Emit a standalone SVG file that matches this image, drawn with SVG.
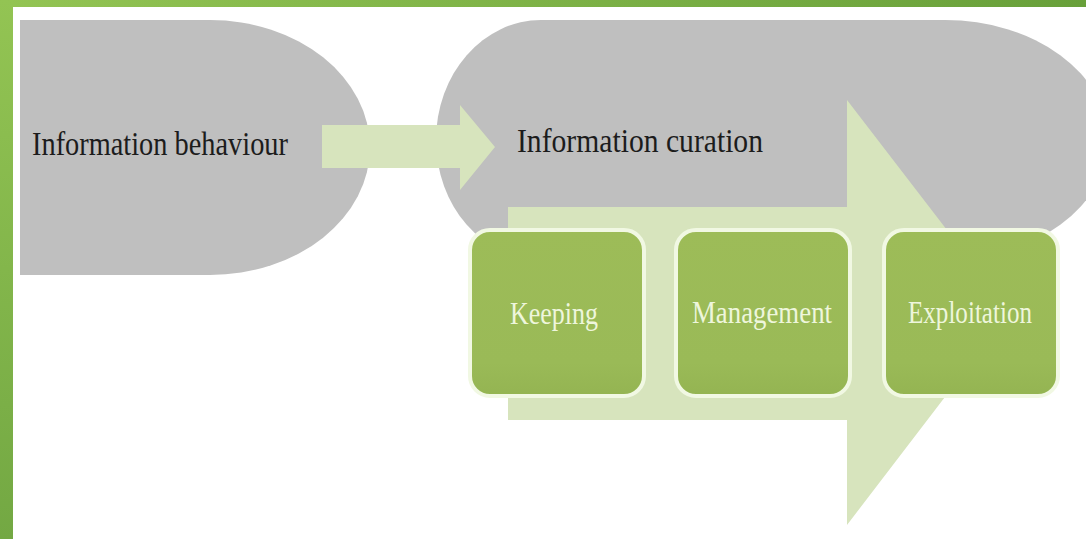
<svg xmlns="http://www.w3.org/2000/svg" width="1086" height="539" viewBox="0 0 1086 539">
  <defs>
    <linearGradient id="frameL" x1="0" y1="0" x2="0" y2="1">
      <stop offset="0" stop-color="#93c453"/>
      <stop offset="1" stop-color="#73a843"/>
    </linearGradient>
    <linearGradient id="frameT" x1="0" y1="0" x2="1" y2="0">
      <stop offset="0" stop-color="#93c453"/>
      <stop offset="1" stop-color="#68a03a"/>
    </linearGradient>
    <linearGradient id="boxFill" x1="0" y1="0" x2="0" y2="1">
      <stop offset="0" stop-color="#9dbc58"/>
      <stop offset="0.8" stop-color="#9aba57"/>
      <stop offset="1" stop-color="#94b452"/>
    </linearGradient>
    <style>
      .gray { fill: #bfbfbf; }
      .arrow { fill: #d7e4bd; }
      .box { fill: url(#boxFill); stroke: #f1f8e3; stroke-width: 4; }
      .dark { font-family: "Liberation Serif", "Times New Roman", serif; font-size: 34px; fill: #1c1c1c; }
      .light { font-family: "Liberation Serif", "Times New Roman", serif; font-size: 31px; fill: #eef6dc; text-anchor: middle; }
    </style>
  </defs>

  <rect x="0" y="0" width="1086" height="539" fill="#ffffff"/>

  <g id="frame">
    <rect x="0" y="0" width="1086" height="7" fill="url(#frameT)"/>
    <rect x="0" y="0" width="13" height="539" fill="url(#frameL)"/>
  </g>

  <g id="node-behaviour">
    <path class="gray" d="M20,20 L210,20 A160,127.5 0 0 1 210,275 L20,275 Z"/>
    <text class="dark" x="32" y="155" textLength="256" lengthAdjust="spacingAndGlyphs">Information behaviour</text>
  </g>

  <g id="node-curation">
    <path class="gray" d="M541,20 L945,20 A163,120 0 0 1 945,260 L541,260 A105,120 0 0 1 541,20 Z"/>
  </g>

  <g id="connectors">
    <path class="arrow" d="M322,125 L460,125 L460,105 L495,147 L460,190 L460,168 L322,168 Z"/>
    <path class="arrow" d="M508,207 L847,207 L847,100 L1010,312 L847,525 L847,420 L508,420 Z"/>
  </g>

  <g id="label-curation">
    <text class="dark" x="517" y="152" textLength="246" lengthAdjust="spacingAndGlyphs">Information curation</text>
  </g>

  <g id="node-keeping">
    <rect class="box" x="470" y="230" width="174" height="166" rx="20" ry="20"/>
    <text class="light" x="554" y="324" textLength="88" lengthAdjust="spacingAndGlyphs">Keeping</text>
  </g>

  <g id="node-management">
    <rect class="box" x="676" y="230" width="174" height="166" rx="20" ry="20"/>
    <text class="light" x="762" y="323" textLength="140" lengthAdjust="spacingAndGlyphs">Management</text>
  </g>

  <g id="node-exploitation">
    <rect class="box" x="884" y="230" width="174" height="166" rx="20" ry="20"/>
    <text class="light" x="970" y="323" textLength="124" lengthAdjust="spacingAndGlyphs">Exploitation</text>
  </g>
</svg>
